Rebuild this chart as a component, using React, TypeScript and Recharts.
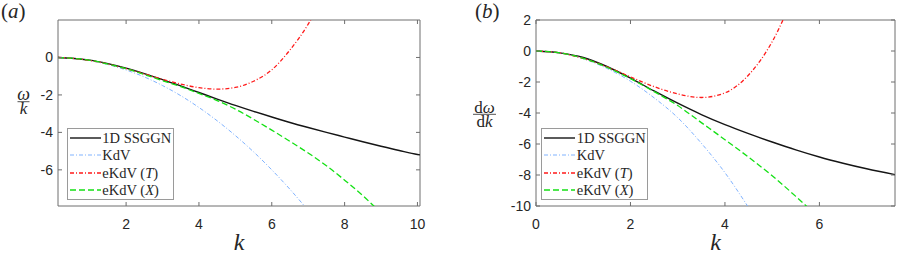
import React from 'react'
import { LineChart, Line, XAxis, YAxis, ReferenceArea, Legend } from 'recharts'

// (a) omega / k against k
const K_A = [0.13, 0.5, 1, 1.5, 2, 2.5, 3, 3.5, 4, 4.5, 5, 5.5, 6, 6.5, 7, 7.5, 8, 8.5, 9, 9.5, 10, 10.07]
const SSGGN_A = [0, -0.04, -0.14, -0.33, -0.57, -0.86, -1.18, -1.52, -1.87, -2.22, -2.56, -2.88, -3.18, -3.47, -3.74, -4.0, -4.25, -4.5, -4.74, -4.97, -5.18, -5.2]
const KDV_A = [0, -0.04, -0.17, -0.38, -0.67, -1.04, -1.5, -2.04, -2.67, -3.38, -4.17, -5.04, -6.0, -7.04, -8.17, null, null, null, null, null, null, null]
const EKDV_T_A = [0, -0.04, -0.16, -0.35, -0.6, -0.88, -1.17, -1.42, -1.61, -1.69, -1.6, -1.27, -0.66, 0.4, 1.78, 3.6, null, null, null, null, null, null]
const EKDV_X_A = [0, -0.04, -0.15, -0.35, -0.6, -0.91, -1.24, -1.56, -1.92, -2.3, -2.76, -3.3, -3.88, -4.48, -5.1, -5.78, -6.55, -7.38, -8.3, null, null, null]

// (b) d omega / dk against k
const K_B = [0, 0.5, 1, 1.5, 2, 2.5, 3, 3.5, 4, 4.5, 5, 5.5, 6, 6.5, 7, 7.6]
const SSGGN_B = [0, -0.12, -0.42, -1.0, -1.75, -2.58, -3.37, -4.1, -4.75, -5.33, -5.87, -6.38, -6.84, -7.24, -7.6, -7.98]
const KDV_B = [0, -0.12, -0.5, -1.12, -1.95, -3.02, -4.3, -5.95, -7.85, -10.1, -12.5, null, null, null, null, null]
const EKDV_T_B = [0, -0.12, -0.48, -1.02, -1.67, -2.3, -2.77, -3.0, -2.7, -1.55, 0.6, 3.9, null, null, null, null]
const EKDV_X_B = [0, -0.12, -0.47, -1.05, -1.78, -2.62, -3.52, -4.62, -5.72, -6.85, -8.05, -9.38, -10.8, null, null, null]

const X_TICKS_A = [2, 4, 6, 8, 10]
const Y_TICKS_A = [-6, -4, -2, 0]
const X_TICKS_B = [0, 2, 4, 6]
const Y_TICKS_B = [-10, -8, -6, -4, -2, 0, 2]

const SERIES = [
  { key: 'ssggn', name: '1D SSGGN', color: '#151515', dash: undefined as string | undefined, width: 1.4 },
  { key: 'kdv', name: 'KdV', color: '#80b3ff', dash: '4 2 1 2', width: 1 },
  { key: 'ekdvT', name: 'eKdV (T)', color: '#ff1a1a', dash: '4 2 1 2', width: 1.3 },
  { key: 'ekdvX', name: 'eKdV (X)', color: '#14e014', dash: '6 3', width: 1.3 },
]

const dataA = K_A.map((k, i) => ({ k, ssggn: SSGGN_A[i], kdv: KDV_A[i], ekdvT: EKDV_T_A[i], ekdvX: EKDV_X_A[i] }))
const dataB = K_B.map((k, i) => ({ k, ssggn: SSGGN_B[i], kdv: KDV_B[i], ekdvT: EKDV_T_B[i], ekdvX: EKDV_X_B[i] }))

const SANS = '"Liberation Sans", Arial, Helvetica, sans-serif'
const SERIF = '"Liberation Serif", "Times New Roman", serif'
const AXIS = '#6e6e6e'
const INK = '#262626'
const TOP = 20
const TICK_LEN = 4

function legendName(name: string) {
  const m = name.match(/^(.*)\((\w)\)$/)
  if (!m) return name
  return <>{m[1]}(<i>{m[2]}</i>)</>
}

function LegendBox() {
  return (
    <div style={{
      boxSizing: 'border-box', width: 107, height: 72, background: '#fff',
      border: '1px solid #9a9a9a', paddingTop: 0.5,
    }}>
      {SERIES.map(s => (
        <div key={s.key} style={{ display: 'flex', alignItems: 'center', height: 17.5 }}>
          <svg width={31} height={4} style={{ marginLeft: 2.3, flex: 'none' }}>
            <line x1={0} x2={31} y1={2} y2={2} stroke={s.color} strokeWidth={s.width} strokeDasharray={s.dash} />
          </svg>
          <span style={{ marginLeft: 1.5, fontFamily: SERIF, fontSize: 14.5, color: INK, whiteSpace: 'nowrap', lineHeight: 1 }}>
            {legendName(s.name)}
          </span>
        </div>
      ))}
    </div>
  )
}

type PanelProps = {
  left: number
  width: number
  yAxisWidth: number
  marginRight: number
  data: any[]
  xDomain: [number, number]
  yDomain: [number, number]
  xTicks: number[]
  yTicks: number[]
  yLabel: any
  legendLeft: number
  title: string
  titleLeft: number
}

function Panel(p: PanelProps) {
  const plotRight = p.width - p.marginRight

  const xTick = (t: any) => (
    <g>
      <line x1={t.x} x2={t.x} y1={t.y} y2={t.y - TICK_LEN} stroke={AXIS} />
      <line x1={t.x} x2={t.x} y1={TOP} y2={TOP + TICK_LEN} stroke={AXIS} />
      <text x={t.x} y={t.y + 23} textAnchor="middle" fontFamily={SANS} fontSize={14} fill={INK}>{t.payload.value}</text>
    </g>
  )
  const yTick = (t: any) => (
    <g>
      <line x1={t.x} x2={t.x + TICK_LEN} y1={t.y} y2={t.y} stroke={AXIS} />
      <line x1={plotRight} x2={plotRight - TICK_LEN} y1={t.y} y2={t.y} stroke={AXIS} />
      <text x={t.x - 5} y={t.y + 5} textAnchor="end" fontFamily={SANS} fontSize={14} fill={INK}>{t.payload.value}</text>
    </g>
  )
  const kLabel = (l: any) => {
    const vb = l.viewBox
    return (
      <text x={vb.x + vb.width / 2} y={vb.y + 44} textAnchor="middle" fontFamily={SERIF}
        fontStyle="italic" fontSize={24} fill={INK}>k</text>
    )
  }

  return (
    <div style={{ position: 'absolute', left: p.left, top: 0 }}>
      <div style={{ position: 'absolute', left: p.titleLeft, top: 1, fontFamily: SERIF, fontSize: 21, lineHeight: '21px', color: INK, zIndex: 2 }}>
        (<i>{p.title}</i>)
      </div>
      <LineChart width={p.width} height={256} data={p.data} margin={{ top: TOP, right: p.marginRight, bottom: 0, left: 0 }}>
        <XAxis
          type="number" dataKey="k" domain={p.xDomain} ticks={p.xTicks} allowDataOverflow
          height={50} axisLine={false} tickLine={false} tickSize={0} tickMargin={0}
          tick={xTick} interval={0} label={kLabel}
        />
        <YAxis
          type="number" domain={p.yDomain} ticks={p.yTicks} allowDataOverflow
          width={p.yAxisWidth} axisLine={false} tickLine={false} tickSize={0} tickMargin={0}
          tick={yTick} interval={0} label={p.yLabel}
        />
        <ReferenceArea x1={p.xDomain[0]} x2={p.xDomain[1]} y1={p.yDomain[0]} y2={p.yDomain[1]}
          fill="none" fillOpacity={0} stroke={AXIS} strokeWidth={1} />
        {SERIES.map(s => (
          <Line key={s.key} type="monotone" dataKey={s.key} name={s.name}
            stroke={s.color} strokeWidth={s.width} strokeDasharray={s.dash}
            dot={false} activeDot={false} isAnimationActive={false} />
        ))}
        <Legend layout="vertical" align="center" verticalAlign="middle"
          wrapperStyle={{ left: p.legendLeft, top: 127.5, width: 'auto', height: 'auto' }}
          content={() => <LegendBox />} />
      </LineChart>
    </div>
  )
}

const omegaOverK = (l: any) => {
  const vb = l.viewBox
  const cx = vb.x + 23.5
  const bar = vb.y + vb.height / 2 - 11.3
  return (
    <g fontFamily={SERIF} fill={INK}>
      <text x={cx} y={bar - 2} textAnchor="middle" fontSize={18} fontStyle="italic">ω</text>
      <line x1={cx - 6} x2={cx + 6} y1={bar} y2={bar} stroke={INK} strokeWidth={0.8} />
      <text x={cx} y={bar + 12} textAnchor="middle" fontSize={17} fontStyle="italic">k</text>
    </g>
  )
}

const dOmegaDk = (l: any) => {
  const vb = l.viewBox
  const cx = vb.x + 34.5
  const bar = vb.y + vb.height / 2 + 1.3
  return (
    <g fontFamily={SERIF} fill={INK}>
      <text x={cx} y={bar - 1.5} textAnchor="middle" fontSize={17}>d<tspan fontStyle="italic">ω</tspan></text>
      <line x1={cx - 11.5} x2={cx + 11.5} y1={bar} y2={bar} stroke={INK} strokeWidth={0.8} />
      <text x={cx} y={bar + 12.5} textAnchor="middle" fontSize={17}>d<tspan fontStyle="italic">k</tspan></text>
    </g>
  )
}

export default function App() {
  return (
    <div style={{ position: 'absolute', left: 0, top: 0, width: 897, height: 256, background: '#fff', overflow: 'hidden' }}>
      <Panel left={0} width={450} yAxisWidth={58} marginRight={30} data={dataA}
        xDomain={[0.13, 10.07]} yDomain={[-7.93, 2]} xTicks={X_TICKS_A} yTicks={Y_TICKS_A}
        yLabel={omegaOverK} legendLeft={66.5} title="a" titleLeft={1} />
      <Panel left={450} width={447} yAxisWidth={86} marginRight={2} data={dataB}
        xDomain={[0, 7.6]} yDomain={[-10, 2]} xTicks={X_TICKS_B} yTicks={Y_TICKS_B}
        yLabel={dOmegaDk} legendLeft={91} title="b" titleLeft={25} />
    </div>
  )
}
